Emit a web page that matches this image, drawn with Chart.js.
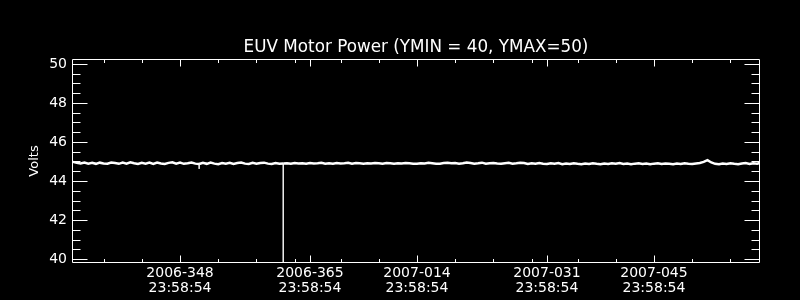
<!DOCTYPE html>
<html>
<head>
<meta charset="utf-8">
<title>EUV Motor Power</title>
<script src="https://cdn.jsdelivr.net/npm/chart.js@4"></script>
<style>
    html, body { margin: 0; padding: 0; background: #000; }
    #chart { display: block; }
</style>
</head>
<body>
<canvas id="chart" width="800" height="300"></canvas>
<script>
// x is the day number counted from 2006-001 (2007-014 = 365 + 14)
const xMin = 333.87;
const xMax = 423.87;
const xTickDays = [348, 365, 379, 396, 410];
const xTickDates = ['2006-348', '2006-365', '2007-014', '2007-031', '2007-045'];
const xTickTimes = ['23:58:54', '23:58:54', '23:58:54', '23:58:54', '23:58:54'];
const xMinorDays = [338, 343, 353, 358, 363, 369, 374, 384, 389, 394, 400, 405, 415, 420];

const yMin = 39.8;
const yMax = 50.25;
const yTickValues = [40, 42, 44, 46, 48, 50];
const yMinorStep = 0.5;

// samples every half day starting at day 334
const sampleStart = 334;
const sampleStep = 0.5;
const volts = [
    44.98, 44.93, 44.90, 44.95, 44.89, 44.93, 44.88, 44.94, 44.90, 44.89,
    44.95, 44.92, 44.88, 44.94, 44.89, 44.96, 44.91, 44.87, 44.93, 44.89,
    44.94, 44.88, 44.95, 44.90, 44.87, 44.93, 44.96, 44.89, 44.94, 44.88,
    44.91, 44.95, 44.89, 44.87, 44.93, 44.88, 44.94, 44.89, 44.86, 44.92,
    44.88, 44.93, 44.87, 44.92, 44.95, 44.89, 44.87, 44.93, 44.88, 44.92,
    44.94, 44.89, 44.87, 44.92, 44.88, 44.90, 44.91, 44.89, 44.92, 44.90,
    44.91, 44.89, 44.92, 44.90, 44.91, 44.93, 44.89, 44.91, 44.89, 44.92,
    44.90, 44.91, 44.93, 44.89, 44.92, 44.91, 44.89, 44.91, 44.90, 44.92,
    44.91, 44.89, 44.92, 44.91, 44.89, 44.91, 44.90, 44.92, 44.91, 44.89,
    44.89, 44.91, 44.90, 44.93, 44.91, 44.89, 44.89, 44.92, 44.94, 44.91,
    44.92, 44.89, 44.91, 44.95, 44.92, 44.89, 44.91, 44.94, 44.89, 44.91,
    44.92, 44.90, 44.89, 44.91, 44.93, 44.89, 44.91, 44.94, 44.92, 44.87,
    44.91, 44.88, 44.92, 44.89, 44.87, 44.91, 44.88, 44.92, 44.86, 44.90,
    44.87, 44.91, 44.88, 44.86, 44.90, 44.87, 44.91, 44.88, 44.86, 44.90,
    44.87, 44.91, 44.88, 44.92, 44.87, 44.90, 44.86, 44.89, 44.91, 44.87,
    44.90, 44.86, 44.89, 44.91, 44.87, 44.90, 44.88, 44.86, 44.90, 44.87,
    44.91, 44.88, 44.87, 44.90, 44.92, 44.98, 45.07, 44.95, 44.88, 44.86,
    44.90, 44.87, 44.91, 44.88, 44.86, 44.90, 44.92, 44.87, 44.91, 44.89,
    44.94
];

// single-sample dropouts (drawn as vertical lines)
const spikeDays = [350.5, 361.5];
const spikeLows = [44.62, 20];

function buildPoints() {
    const pts = [];
    volts.forEach((v, i) => {
        const day = sampleStart + i * sampleStep;
        pts.push({ x: day, y: v });
        const k = spikeDays.indexOf(day);
        if (k >= 0) {
            pts.push({ x: day, y: spikeLows[k] });
            pts.push({ x: day, y: v });
        }
    });
    return pts;
}

const WHITE = '#ffffff';
const FONT = "'DejaVu Sans', sans-serif";

// IDL style box with inward ticks on all four sides
const frameTicks = {
    id: 'frameTicks',
    afterDraw(chart) {
        const { ctx, chartArea: a, scales: { x, y } } = chart;
        const L = Math.round(a.left) + 0.5, R = Math.round(a.right) - 0.5;
        const T = Math.round(a.top) + 0.5, B = Math.round(a.bottom) - 0.5;
        ctx.save();
        ctx.strokeStyle = WHITE;
        ctx.lineWidth = 1;
        ctx.beginPath();
        ctx.rect(L, T, R - L, B - T);

        const xTick = (v, len) => {
            const px = Math.round(x.getPixelForValue(v)) + 0.5;
            ctx.moveTo(px, B); ctx.lineTo(px, B - len);
            ctx.moveTo(px, T); ctx.lineTo(px, T + len);
        };
        const yTick = (v, len) => {
            const py = Math.round(y.getPixelForValue(v)) + 0.5;
            ctx.moveTo(L, py); ctx.lineTo(L + len, py);
            ctx.moveTo(R, py); ctx.lineTo(R - len, py);
        };
        xTickDays.forEach(v => xTick(v, 7));
        xMinorDays.forEach(v => xTick(v, 3.5));
        yTickValues.forEach(v => yTick(v, 15));
        for (let v = yTickValues[0]; v < yTickValues[yTickValues.length - 1]; v += yMinorStep) {
            if (!yTickValues.includes(v)) yTick(v, 8);
        }
        ctx.stroke();
        ctx.restore();
    }
};

new Chart(document.getElementById('chart'), {
    type: 'line',
    data: {
        datasets: [{
            label: 'EUV Motor Power',
            data: buildPoints(),
            borderColor: WHITE,
            borderWidth: 2.5,
            pointRadius: 0,
            tension: 0,
            segment: {
                borderWidth: c => (c.p0.parsed.x === c.p1.parsed.x ? 1 : 2.5)
            }
        }]
    },
    options: {
        responsive: false,
        animation: false,
        events: [],
        layout: { padding: { left: 0, right: 40, top: 0, bottom: 0 } },
        plugins: {
            legend: { display: false },
            tooltip: { enabled: false },
            title: {
                display: true,
                fullSize: false,
                text: 'EUV Motor Power (YMIN = 40, YMAX=50)',
                color: WHITE,
                font: { family: FONT, size: 16.8, weight: 'normal', lineHeight: 1 },
                padding: { top: 39, bottom: 3.2 }
            }
        },
        scales: {
            x: {
                type: 'linear',
                min: xMin,
                max: xMax,
                grid: { display: false, drawTicks: false },
                border: { display: false },
                afterBuildTicks: s => { s.ticks = xTickDays.map(v => ({ value: v })); },
                afterFit: s => { s.height = 37; },
                ticks: {
                    color: WHITE,
                    padding: 3,
                    maxRotation: 0,
                    autoSkip: false,
                    font: { family: FONT, size: 14, lineHeight: 1.07 },
                    callback: v => {
                        const i = xTickDays.indexOf(v);
                        return i >= 0 ? [xTickDates[i], xTickTimes[i]] : '';
                    }
                }
            },
            y: {
                min: yMin,
                max: yMax,
                grid: { display: false, drawTicks: false },
                border: { display: false },
                afterBuildTicks: s => { s.ticks = yTickValues.map(v => ({ value: v })); },
                afterFit: s => { s.width = 72; },
                title: {
                    display: true,
                    text: 'Volts',
                    color: WHITE,
                    font: { family: FONT, size: 13 },
                    padding: { top: 27, bottom: 0 }
                },
                ticks: {
                    color: WHITE,
                    padding: 5,
                    font: { family: FONT, size: 14 },
                    callback: v => String(v)
                }
            }
        }
    },
    plugins: [frameTicks]
});
</script>
</body>
</html>
